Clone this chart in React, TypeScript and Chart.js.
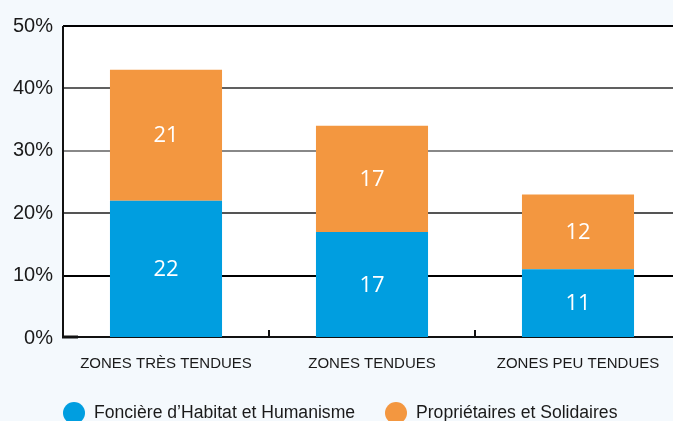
import React, { useEffect, useRef } from "react";
import { Chart, registerables } from "chart.js";

Chart.register(...registerables);

const categories = ["ZONES TRÈS TENDUES", "ZONES TENDUES", "ZONES PEU TENDUES"];
const fhhValues = [22, 17, 11];
const psValues = [21, 17, 12];
const seriesLabels = ["Foncière d’Habitat et Humanisme", "Propriétaires et Solidaires"];
const seriesColors = ["#009ee0", "#f39740"];
const yTicks = [0, 10, 20, 30, 40, 50];

const BG = "#f4f9fd";
const FONT = "'Liberation Sans', Arial, sans-serif";

const gridColorFor = (v: number) => {
  if (v === 50) return "#000000";
  if (v === 40) return "#606060";
  if (v === 30) return "#888888";
  if (v === 20) return "#555555";
  if (v === 10) return "#000000";
  return "rgba(0,0,0,0)";
};

const bgPlugin = {
  id: "bgPlugin",
  beforeDraw(chart: any) {
    const { ctx, chartArea } = chart;
    ctx.save();
    ctx.fillStyle = BG;
    ctx.fillRect(0, 0, chart.width, chart.height);
    ctx.fillStyle = "#ffffff";
    ctx.fillRect(chartArea.left, chartArea.top, chartArea.right - chartArea.left, chartArea.bottom - chartArea.top);
    ctx.restore();
  },
};

const axisPlugin = {
  id: "axisPlugin",
  beforeDatasetsDraw(chart: any) {
    const { ctx, chartArea } = chart;
    const x = chart.scales.x;
    ctx.save();
    ctx.strokeStyle = "#111";
    ctx.lineWidth = 2;
    ctx.beginPath();
    ctx.moveTo(chartArea.left - 1, chartArea.bottom - 1);
    ctx.lineTo(chartArea.right, chartArea.bottom - 1);
    ctx.stroke();
    ctx.lineWidth = 3;
    ctx.beginPath();
    ctx.moveTo(chartArea.left - 1, chartArea.bottom - 1);
    ctx.lineTo(chartArea.left + 15, chartArea.bottom - 1);
    ctx.stroke();
    ctx.lineWidth = 2;
    for (let i = 1; i < categories.length; i++) {
      const bx = (x.getPixelForValue(i - 1) + x.getPixelForValue(i)) / 2;
      ctx.beginPath();
      ctx.moveTo(bx, chartArea.bottom);
      ctx.lineTo(bx, chartArea.bottom - 8);
      ctx.stroke();
    }
    ctx.beginPath();
    ctx.moveTo(chartArea.left, chartArea.top);
    ctx.lineTo(chartArea.left, chartArea.bottom);
    ctx.stroke();
    ctx.restore();
  },
};

const overlayPlugin = {
  id: "overlayPlugin",
  afterDatasetsDraw(chart: any) {
    const { ctx } = chart;
    ctx.save();
    ctx.fillStyle = "#ffffff";
    ctx.font = `22px 'Open Sans', sans-serif`;
    ctx.textAlign = "center";
    ctx.textBaseline = "middle";
    chart.data.datasets.forEach((ds: any, di: number) => {
      const meta = chart.getDatasetMeta(di);
      meta.data.forEach((bar: any, i: number) => {
        const cy = (bar.y + bar.base) / 2;
        ctx.fillText(String(ds.data[i]), bar.x, cy + 1);
      });
    });
    ctx.font = `17.6px ${FONT}`;
    ctx.textAlign = "left";
    ctx.textBaseline = "middle";
    const legendPos = [
      { cx: 74, tx: 94 },
      { cx: 396, tx: 416 },
    ];
    chart.data.datasets.forEach((ds: any, di: number) => {
      const p = legendPos[di];
      ctx.fillStyle = ds.backgroundColor;
      ctx.beginPath();
      ctx.arc(p.cx, 413, 11, 0, Math.PI * 2);
      ctx.fill();
      ctx.fillStyle = "#1a1a1a";
      ctx.fillText(ds.label, p.tx, 413);
    });
    ctx.restore();
  },
};

export default function App() {
  const ref = useRef<HTMLCanvasElement | null>(null);
  useEffect(() => {
    document.body.style.margin = "0";
    const chart = new Chart(ref.current as HTMLCanvasElement, {
      type: "bar",
      data: {
        labels: categories,
        datasets: [
          { label: seriesLabels[0], data: fhhValues, backgroundColor: seriesColors[0], borderWidth: 0 },
          { label: seriesLabels[1], data: psValues, backgroundColor: seriesColors[1], borderWidth: 0 },
        ],
      },
      options: {
        animation: false,
        responsive: false,
        maintainAspectRatio: false,
        layout: { padding: { top: 26, right: 9, left: 0, bottom: 0 } },
        datasets: { bar: { categoryPercentage: 1, barPercentage: 0.544 } },
        plugins: { legend: { display: false }, tooltip: { enabled: false } },
        scales: {
          x: {
            stacked: true,
            grid: { display: false, drawTicks: false },
            border: { display: false },
            ticks: { color: "#1a1a1a", font: { family: FONT, size: 15 }, padding: 17, maxRotation: 0 },
            afterFit: (s: any) => { s.height = 83; },
          },
          y: {
            stacked: true,
            min: 0,
            max: 50,
            afterBuildTicks: (s: any) => { s.ticks = yTicks.map((v) => ({ value: v })); },
            grid: {
              drawTicks: false,
              lineWidth: 2,
              color: (c: any) => gridColorFor(c.tick ? c.tick.value : -1),
            },
            border: { display: false },
            ticks: {
              color: "#1a1a1a",
              font: { family: FONT, size: 20 },
              padding: 10,
              callback: (v: any) => `${v}%`,
            },
            afterFit: (s: any) => { s.width = 63; },
          },
        },
      },
      plugins: [bgPlugin, axisPlugin, overlayPlugin],
    });
    return () => chart.destroy();
  }, []);
  return (
    <div style={{ position: "absolute", left: 0, top: 0, width: 673, height: 421, overflow: "hidden", background: BG }}>
      <canvas ref={ref} width={690} height={421} style={{ display: "block" }} />
    </div>
  );
}
